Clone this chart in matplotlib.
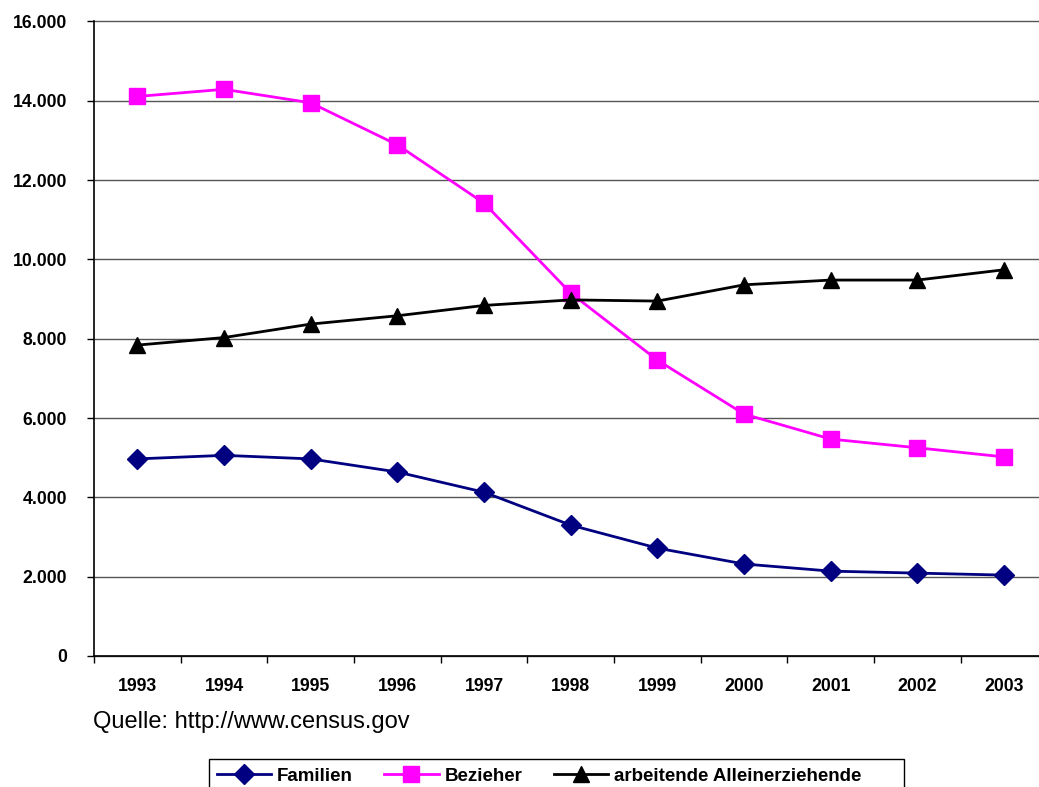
import matplotlib
matplotlib.use("Agg")
import matplotlib.pyplot as plt
from matplotlib.patches import Rectangle
from matplotlib.ticker import FuncFormatter, MultipleLocator

years = ["1993", "1994", "1995", "1996", "1997", "1998", "1999", "2000", "2001", "2002", "2003"]
familien = [4970, 5060, 4970, 4640, 4130, 3300, 2720, 2320, 2140, 2090, 2040]
bezieher = [14110, 14290, 13950, 12890, 11420, 9150, 7460, 6100, 5470, 5250, 5020]
arbeitende = [7840, 8030, 8370, 8580, 8840, 8980, 8950, 9360, 9480, 9480, 9740]
series_labels = ["Familien", "Bezieher", "arbeitende Alleinerziehende"]

plt.rcParams['font.family'] = ['Liberation Sans', 'DejaVu Sans']

W, H = 1039, 787
fig = plt.figure(figsize=(W / 100, H / 100), dpi=100)
left, right, top, bottom = 94, 1047.5, 21.5, 656
ax = fig.add_axes([left / W, 1 - bottom / H, (right - left) / W, (bottom - top) / H])

x = list(range(len(years)))
ax.plot(x, familien, color='#000080', lw=2.0, marker='D', ms=10, label=series_labels[0])
ax.plot(x, bezieher, color='#FF00FF', lw=2.0, marker='s', ms=11, label=series_labels[1])
ax.plot(x, arbeitende, color='#000000', lw=2.0, marker='^', ms=11.5, label=series_labels[2])

ax.set_xlim(-0.5, len(years) - 0.5)
ax.set_ylim(0, 16000)
ax.yaxis.set_major_locator(MultipleLocator(2000))
ax.yaxis.set_major_formatter(FuncFormatter(lambda v, p: f"{int(v):,}".replace(",", ".")))
ax.grid(axis='y', color='#555555', lw=1.0)
ax.set_axisbelow(True)
for gl in ax.get_ygridlines():
    gl.set_clip_on(False)

ax.set_xticks(x)
ax.set_xticklabels(years, fontsize=12.7, fontweight='bold')
ax.set_xticks([i - 0.5 for i in range(len(years) + 1)], minor=True)
ax.tick_params(axis='x', which='major', length=0, pad=16)
ax.tick_params(axis='x', which='minor', length=5, width=1, direction='out', color='black')
ax.tick_params(axis='y', length=5, width=1, direction='out', pad=14.5, labelsize=12.7, color='black')
for lab in ax.get_yticklabels():
    lab.set_fontweight('bold')

for s in ['top', 'right']:
    ax.spines[s].set_visible(False)
ax.spines['left'].set_color('black')
ax.spines['bottom'].set_color('black')
ax.spines['left'].set_linewidth(1.2)
ax.spines['bottom'].set_linewidth(1.2)

fig.text(93 / W, 1 - 722 / H, "Quelle: http://www.census.gov", fontsize=17, va='center', ha='left')

leg = fig.legend(loc='upper left', bbox_to_anchor=(209 / W, 1 - 760 / H), ncol=3,
                 frameon=False,
                 prop={'weight': 'bold', 'size': 13.5}, handlelength=2.9, columnspacing=1.7,
                 handletextpad=0.3, borderpad=0.4, borderaxespad=0)

# legend frame (extends below the bottom edge as in the original)
fig.patches.append(Rectangle((209 / W, -0.01), (904 - 209) / W, (787 - 759) / H + 0.01,
                             transform=fig.transFigure, fill=False, edgecolor='black',
                             lw=1.0, clip_on=False))

fig.savefig("out.png", dpi=100)
